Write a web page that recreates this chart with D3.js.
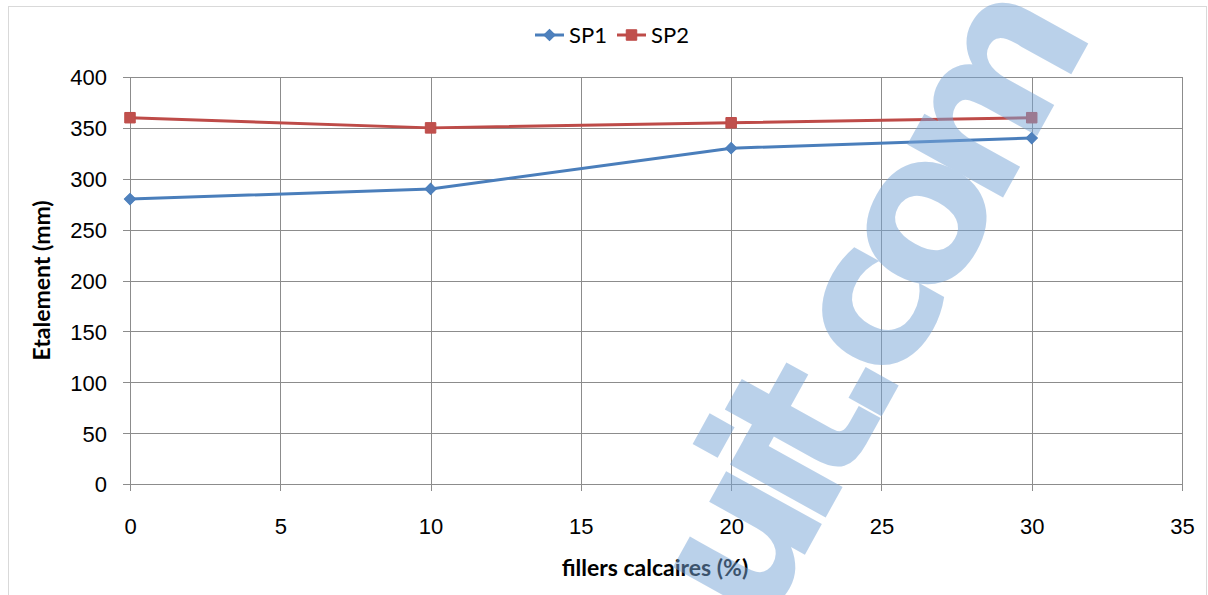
<!DOCTYPE html>
<html>
<head>
<meta charset="utf-8">
<script src="https://cdn.jsdelivr.net/npm/d3@7"></script>
<style>
  body { margin: 0; background: #fff; }
  svg { display: block; font-family: Lato, "Open Sans", sans-serif; }
  .grid line { stroke: #8c8c8c; stroke-width: 1; }
  .tick text { font-size: 22px; fill: #000; }
  .axis-title { font-size: 23px; font-weight: bold; fill: #000; }
  .legend-label { font-size: 22px; fill: #000; }
</style>
</head>
<body>
<div id="chart"></div>
<script>
  // --- data ---
  const fillers = [0, 10, 20, 30];
  const sp1 = [280, 290, 330, 340];
  const sp2 = [360, 350, 355, 360];
  const xTicks = [0, 5, 10, 15, 20, 25, 30, 35];
  const yTicks = [0, 50, 100, 150, 200, 250, 300, 350, 400];

  const series = [
    { name: "SP1", values: sp1, line: "#4a7ebb", fill: "#4f81bd", shape: d3.symbolSquare, size: 64, rot: 45 },
    { name: "SP2", values: sp2, line: "#be4b48", fill: "#c0504d", shape: d3.symbolSquare, size: 110, rot: 0 }
  ];

  const W = 1208, H = 595;
  const m = { left: 130, right: 26, top: 77, bottom: 111 };

  const svg = d3.select("#chart").append("svg")
    .attr("width", W).attr("height", H);

  // chart frame
  svg.append("rect")
    .attr("x", 8.5).attr("y", 6.5).attr("width", W - 10).attr("height", H)
    .attr("fill", "none").attr("stroke", "#d9d9d9");

  const x = d3.scaleLinear().domain([0, 35]).range([m.left, W - m.right]);
  const y = d3.scaleLinear().domain([0, 400]).range([H - m.bottom, m.top]);

  // gridlines
  const grid = svg.append("g").attr("class", "grid");
  grid.selectAll(".h").data(yTicks).join("line")
    .attr("x1", x(0) - 7).attr("x2", x(35))
    .attr("y1", d => Math.round(y(d)) + 0.5).attr("y2", d => Math.round(y(d)) + 0.5);
  grid.selectAll(".v").data(xTicks).join("line")
    .attr("y1", y(400)).attr("y2", y(0) + 7)
    .attr("x1", d => Math.round(x(d)) + 0.5).attr("x2", d => Math.round(x(d)) + 0.5);

  // axes (labels only, lines drawn by grid)
  const xAxis = svg.append("g")
    .attr("transform", `translate(0,${y(0)})`)
    .call(d3.axisBottom(x).tickValues(xTicks).tickSize(0).tickPadding(34));
  const yAxis = svg.append("g")
    .attr("transform", `translate(${m.left},0)`)
    .call(d3.axisLeft(y).tickValues(yTicks).tickSize(0).tickPadding(23));
  [xAxis, yAxis].forEach(a => { a.select(".domain").remove(); a.selectAll("text").attr("font-family", null).attr("font-size", null); });
  yAxis.selectAll("text").attr("dy", "0.36em");

  // axis titles
  svg.append("text").attr("class", "axis-title")
    .attr("x", 655).attr("y", 576).attr("text-anchor", "middle")
    .text("fillers calcaires (%)");
  svg.append("text").attr("class", "axis-title")
    .attr("transform", `translate(50,${(y(0) + y(400)) / 2}) rotate(-90)`)
    .attr("text-anchor", "middle")
    .text("Etalement (mm)");

  // lines + markers
  const line = d3.line().x((d, i) => x(fillers[i])).y(d => y(d));
  series.forEach(s => {
    svg.append("path").datum(s.values)
      .attr("d", line).attr("fill", "none")
      .attr("stroke", s.line).attr("stroke-width", 3).attr("stroke-linejoin", "round");
    svg.append("g").selectAll("path").data(s.values).join("path")
      .attr("transform", (d, i) => `translate(${x(fillers[i])},${y(d)}) rotate(${s.rot})`)
      .attr("d", d3.symbol().type(s.shape).size(s.size))
      .attr("fill", s.fill).attr("stroke", s.line).attr("stroke-width", 1);
  });

  // legend
  const legend = svg.append("g").attr("transform", "translate(535,35)");
  const lx = [0, 82];
  series.forEach((s, i) => {
    const g = legend.append("g").attr("transform", `translate(${lx[i]},0)`);
    g.append("line").attr("x1", 0).attr("x2", 29).attr("stroke", s.line).attr("stroke-width", 3);
    g.append("path").attr("transform", `translate(14.5,0) rotate(${s.rot})`)
      .attr("d", d3.symbol().type(s.shape).size(s.size))
      .attr("fill", s.fill).attr("stroke", s.line);
    g.append("text").attr("class", "legend-label").attr("x", 34).attr("dy", "0.36em").text(s.name);
  });

  // watermark
  svg.append("text")
    .attr("transform", "translate(761,634) rotate(-61)")
    .attr("font-family", "DejaVu Sans, sans-serif")
    .attr("font-weight", "bold")
    .attr("font-size", 200)
    .attr("letter-spacing", -26)
    .attr("fill", "rgb(120,165,215)")
    .attr("opacity", 0.5)
    .text("uit.com");
</script>
</body>
</html>
